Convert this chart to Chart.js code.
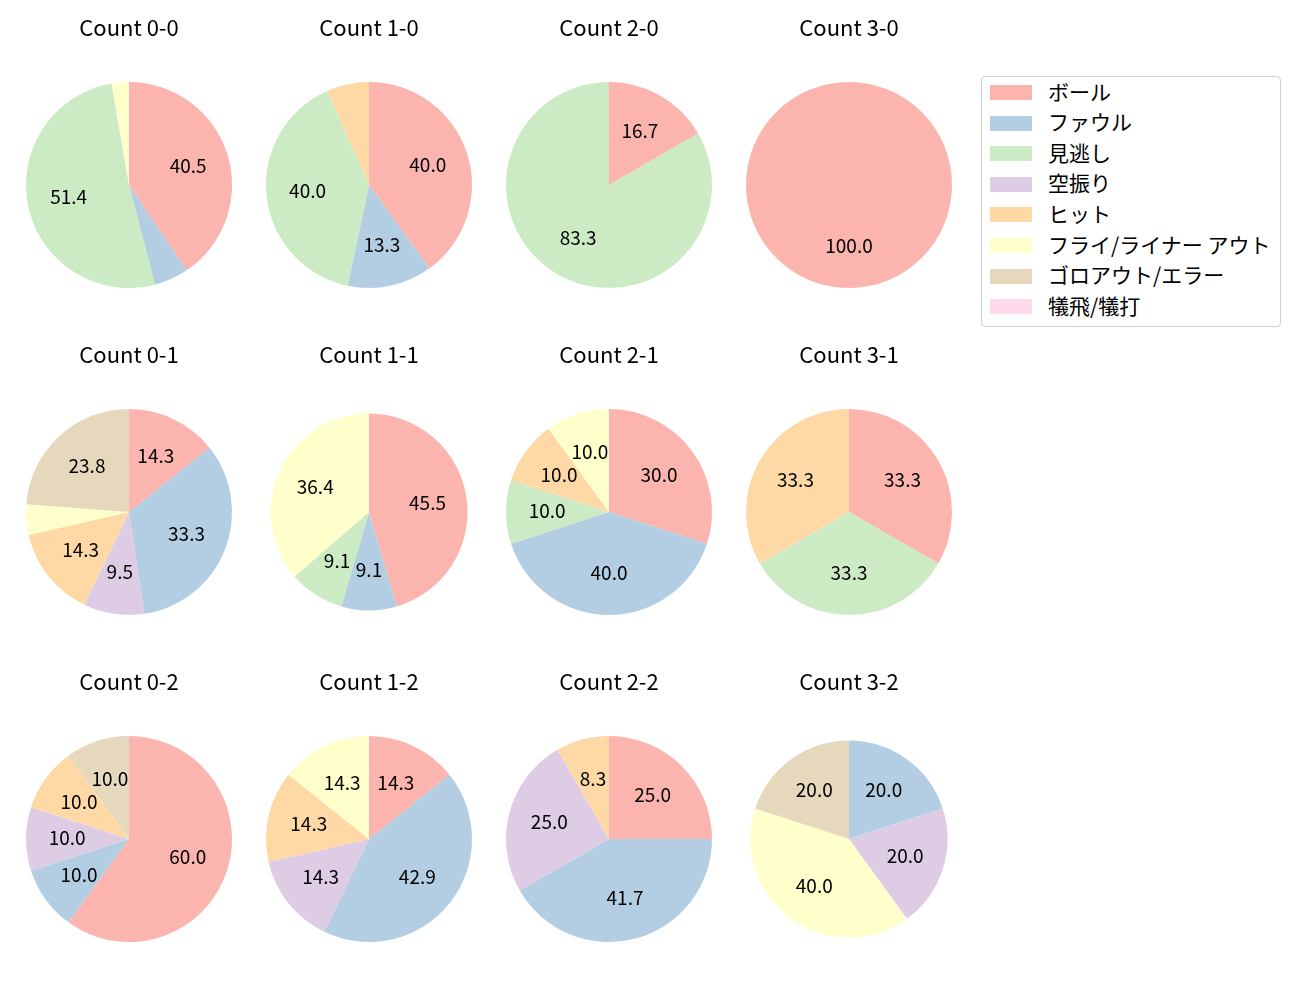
<!DOCTYPE html>
<html>
<head>
<meta charset="utf-8">
<script src="https://cdn.jsdelivr.net/npm/chart.js@4/dist/chart.umd.min.js"></script>
<style>
  html, body { margin: 0; padding: 0; background: #fff; }
  body { width: 1300px; height: 1000px; position: relative; overflow: hidden;
         font-family: "Noto Sans CJK JP", "Noto Sans", sans-serif; }
  .cell { position: absolute; width: 240px; height: 320px; }
  #legend { position: absolute; left: 981px; top: 76px; width: 298px; height: 249px;
            border: 1px solid #d0d0d0; border-radius: 4px; background: #fff; }
  .item { position: absolute; left: 0; height: 30px; width: 298px; }
  .sw { position: absolute; left: 8px; width: 42px; height: 15px; }
  .lt { position: absolute; left: 66px; font-size: 21px; line-height: 22px; color: #000; white-space: nowrap; }
</style>
</head>
<body>
<div id="legend"></div>
<script>
// ---- data ----
const categories = ['ボール', 'ファウル', '見逃し', '空振り', 'ヒット', 'フライ/ライナー アウト', 'ゴロアウト/エラー', '犠飛/犠打'];
const countLabels = ['0-0', '1-0', '2-0', '3-0', '0-1', '1-1', '2-1', '3-1', '0-2', '1-2', '2-2', '3-2'];
const c00 = [15, 2, 19, 0, 0, 1, 0, 0];
const c10 = [6, 2, 6, 0, 1, 0, 0, 0];
const c20 = [1, 0, 5, 0, 0, 0, 0, 0];
const c30 = [1, 0, 0, 0, 0, 0, 0, 0];
const c01 = [3, 7, 0, 2, 3, 1, 5, 0];
const c11 = [5, 1, 1, 0, 0, 4, 0, 0];
const c21 = [3, 4, 1, 0, 1, 1, 0, 0];
const c31 = [1, 0, 1, 0, 1, 0, 0, 0];
const c02 = [6, 1, 0, 1, 1, 0, 1, 0];
const c12 = [1, 3, 0, 1, 1, 1, 0, 0];
const c22 = [3, 5, 0, 3, 1, 0, 0, 0];
const c32 = [0, 1, 0, 1, 0, 2, 1, 0];
const seriesByCount = [c00, c10, c20, c30, c01, c11, c21, c31, c02, c12, c22, c32];

// ---- styles / layout ----
const colors = ['#fbb4ae', '#b3cde3', '#ccebc5', '#decbe4', '#fed9a6', '#ffffcc', '#e5d8bd', '#fddaec'];
const colCenters = [129, 369, 609, 849];
const rowCenters = [185, 512, 838.5];
const smallPies = ['1-1', '3-2'];
const FONT = '"Noto Sans CJK JP", "Noto Sans", sans-serif';

// legend
const leg = document.getElementById('legend');
categories.forEach((c, i) => {
  const it = document.createElement('div');
  it.className = 'item';
  it.style.top = (i * 30.6) + 'px';
  const sw = document.createElement('div');
  sw.className = 'sw'; sw.style.background = colors[i]; sw.style.top = '8px';
  const t = document.createElement('div');
  t.className = 'lt'; t.textContent = c; t.style.top = '2.5px';
  it.appendChild(sw); it.appendChild(t); leg.appendChild(it);
});

const pctLabels = {
  id: 'pctLabels',
  afterDatasetsDraw(chart) {
    const ctx = chart.ctx;
    const meta = chart.getDatasetMeta(0);
    const vals = chart.data.datasets[0].data;
    const total = vals.reduce((a, b) => a + b, 0);
    ctx.save();
    ctx.font = '19px ' + FONT;
    ctx.fillStyle = '#000';
    ctx.textAlign = 'center';
    ctx.textBaseline = 'middle';
    meta.data.forEach((arc, i) => {
      const pct = vals[i] / total * 100;
      if (vals[i] === 0 || pct < 7.5) return;
      const p = arc.getProps(['x', 'y', 'startAngle', 'endAngle', 'outerRadius'], true);
      const mid = (p.startAngle + p.endAngle) / 2;
      const r = p.outerRadius * 0.6;
      ctx.fillText(pct.toFixed(1), p.x + Math.cos(mid) * r, p.y + Math.sin(mid) * r - 1);
    });
    ctx.restore();
  }
};

Chart.defaults.font.family = FONT;
countLabels.forEach((lab, k) => {
  const col = k % 4, row = Math.floor(k / 4);
  const cx = colCenters[col], cy = rowCenters[row];
  const r = smallPies.includes(lab) ? 98.5 : 103;
  const div = document.createElement('div');
  div.className = 'cell';
  div.style.left = (cx - 120) + 'px';
  div.style.top = (cy - 185) + 'px';
  const cv = document.createElement('canvas');
  cv.width = 240; cv.height = 320;
  div.appendChild(cv);
  document.body.appendChild(div);
  new Chart(cv, {
    type: 'pie',
    data: {
      labels: categories,
      datasets: [{ data: seriesByCount[k], backgroundColor: colors, borderWidth: 0, hoverOffset: 0 }]
    },
    options: {
      responsive: false,
      animation: false,
      events: [],
      layout: { padding: { left: 120 - r, right: 120 - r, top: 0, bottom: 32 } },
      plugins: {
        legend: { display: false },
        tooltip: { enabled: false },
        title: {
          display: true, text: 'Count ' + lab, color: '#000',
          font: { size: 22, weight: 'normal', family: FONT, lineHeight: 1.2 },
          padding: { top: 14.8, bottom: 40.8 }
        }
      }
    },
    plugins: [pctLabels]
  });
});
</script>
</body>
</html>
